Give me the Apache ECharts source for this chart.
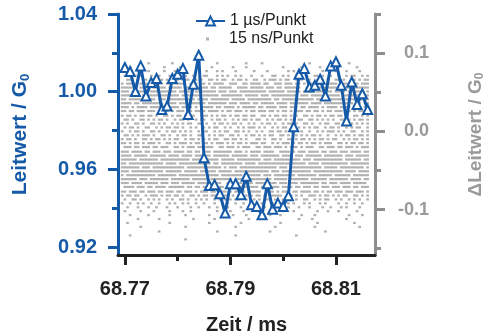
<!DOCTYPE html>
<html>
<head>
<meta charset="utf-8">
<script src="https://cdn.jsdelivr.net/npm/echarts@6/dist/echarts.min.js"></script>
<style>
  html, body { margin: 0; padding: 0; background: #fff; }
  #chart { width: 486px; height: 335px; }
</style>
</head>
<body>
<div id="chart"></div>
<script>
// 1 µs averaged trace
const timeMs = [
  68.770, 68.771, 68.772, 68.773, 68.774, 68.775, 68.776, 68.777, 68.778, 68.779,
  68.780, 68.781, 68.782, 68.783, 68.784, 68.785, 68.786, 68.787, 68.788, 68.789,
  68.790, 68.791, 68.792, 68.793, 68.794, 68.795, 68.796, 68.797, 68.798, 68.799,
  68.800, 68.801, 68.802, 68.803, 68.804, 68.805, 68.806, 68.807, 68.808, 68.809,
  68.810, 68.811, 68.812, 68.813, 68.814, 68.815, 68.816
];
const conductance = [
  1.0125, 1.0104, 1.0001, 1.0133, 0.9978, 1.0047, 1.0068, 0.9909, 0.9926, 1.0068,
  1.0090, 1.0120, 0.9883, 1.0038, 1.0188, 0.9660, 0.9517, 0.9522, 0.9475, 0.9376,
  0.9527, 0.9527, 0.9470, 0.9565, 0.9419, 0.9410, 0.9367, 0.9527, 0.9396, 0.9427,
  0.9410, 0.9465, 0.9820, 1.0090, 1.0120, 1.0024, 1.0033, 1.0064, 0.9978, 1.0133,
  1.0154, 1.0033, 0.9849, 1.0050, 0.9935, 0.9990, 0.9909
];

// 15 ns samples: digitizer levels (ΔG0) and which 0.5 µs bins hold a sample
const fastStart = 68.7695;
const fastBin = 0.0005;
const fastLevels = [
  0.087, 0.082, 0.077, 0.071, 0.066, 0.061, 0.056, 0.051, 0.046, 0.041,
  0.036, 0.031, 0.026, 0.020, 0.015, 0.010, 0.005, 0.000, -0.005, -0.010,
  -0.015, -0.020, -0.026, -0.031, -0.036, -0.041, -0.046, -0.051, -0.056, -0.061,
  -0.066, -0.071, -0.077, -0.082, -0.087, -0.092, -0.097, -0.102, -0.107, -0.112,
  -0.117, -0.122, -0.128, -0.133, -0.138
];
const fastRows = [
  ".......... #........# .........# ......#... .......#.. ...#...... .......... .#........ ......#... ....",
  "...#...... ......#... ..#....... ....#..... ..#....#.. .......... .#......#. .....#.... ..#......# ....",
  "..#...#... #.....#... #...#..... ..#...#.#. ...#...... #....#.... ...#.#.... #.....#... .#...#.... #...",
  ".#..##.#.. .#..#...## ..#.#..#.. .##...#.#. #..#.#...# ...#...##. .#.#..#... #..##.#..# ..#..#.##. .#.#",
  "..###.#.## .##..#.#.. ##.###..#. #..##.#.## ..#.##.#.. ##..#.###. #.##..#.#. ##..###.#. .##.#..##. #.##",
  "#.####.### ..####.##. ####..###. ##.#.####. .###..##.# ###.##..## #.###.##.# .####.#.## ##.###..## .###",
  "######.### #.#####.## ###.####.# ###.##.### ##..####.# ####.###.# #.######.. ###.##.### ##.####.## ####",
  "###.###### .#######.# #.#####.## ######.### .###.##### #####.#### ##.#####.# ###.###### .####.#### ##.#",
  "#######.## ####.##### ##.####### .######.## ######.### ##.###.### #######.## #.######## ###.###### #.##",
  "##.####### ###.###.## ########.# ###.###### #.#####.## #######.## .######### ###.####.# ####.##### ####",
  "####.##.## ######.### #.###.#### ##.####### .###.####. ##.#####.# ###.###### #.####.### ######.#.# #.##",
  "###.#.#### .####.##.# ##.####.#. #####.##.# ###.#.#### #.##.####. ###.###.## .####.#.## ##.####.## #.##",
  "##.##.###. ###.#.##.# .###.##.## .#.####.#. ##.###.#.# #.###.##.# .##.#.###. ##.##.#.## .###.##.#. ##.#",
  "#.##.#.##. ##.#..##.# .##.#.##.. ###.#.#.## .#.##.##.# #..##.#.## .##.#.#..# #.#.##.#.# #.##.#..## .#.#",
  ".##.#..##. #.#.##.#.. #.##.#..#. ##..#.##.# ..#.#.##.# .##..#.#.# #.#.#..##. .##.#.#.#. #..##.#.#. ##.#",
  "#.#..##.#. .##.#.#..# .#.#.##..# #.#..#.##. #.##.#..#. #..#.##.#. .#.##.#..# #.#..#.##. .##.#..#.# .#.#",
  ".#.##.#..# #..#.#.##. ##.#..#.#. .#.#.##..# .#..#.#.## #.#.#..#.# .##..#.#.# .#.##..#.# #.#..#.#.# #..#",
  "#..#.##.#. .##.#..#.# #.#.#.#..# .##..#.#.# #..##.#.#. .#.#..##.# #.#.##..#. .#..#.#.## #.#.#..##. .#.#",
  ".##.#.#.## #.#..##.#. .#.##.#..# #..#.#.##. .##.#..#.# #.#.#.##.. ##.#..#.#. #.##.#..#. .#.#.##.#. ##.#",
  "#.##.#..## .#.##.#.#. ##..#.##.# .#.#.##..# #.##.#.#.. .##.#..##. #..##.#.## .#.#.##.#. ##..#.#.## .#.#",
  "##.#.##.#. ###.#..##. #.###.#.## .##.#.###. #.#.##.#.# ##.##..#.# .###.#.##. #.##.#.### ..##.#.##. ##.#",
  ".###.##.## #.##.###.. ##.#.###.# #.###..##. ###.#.###. .##.###.## #.#.###.#. ###..##.## #.##.###.# .###",
  "###.####.# #.###.###. ####.##.## .###.##### ##.###.#.# ###.####.. ####.#.### .####.##.# ##.###.### #.##",
  "####.##### .######.## ##.####.## ####.##### #.######.# ##.####### .####.###. ######.### ####.###.# ####",
  "######.### ####.##### ######.### .######.## ###.###### ###.###.## ########.# ##.####### ####.##### #.##",
  "##.####### ######.### #.######## ####.##.## ######.### #.######## ####.##### .####.#### ######.### ####",
  "#######.## #.######## ####.##### ########.# .###.##### #########. ###.###### ######.### ##.####### ##.#",
  "###.###### ######.### ###.#####. ######.### ##.####### ######.### .######### ##.####### ####.####. ####",
  "#.######## ###.###### #.######## ##.####.## ######.### ###.###.## ######.### ####.##### .######.## ####",
  "######.### .#######.# ######.### ###.###### ##.###.### #######.## ###.###### #.######.# ######.### #.##",
  "###.####.# ####.###.# ##.#####.# ####.###.. ######.### .####.###. ###.###.## #####.##.# ##.####.## ###.",
  ".####.###. ##.####.## ####.##.## .###.####. ##.#####.# ##.##.#### .####.##.# ##.##.###. ###.###.## .###",
  "##.###.##. ###.##.### .##.###.#. ###.##.### .#.####.## ###..###.# .###.##.## ##.##.#.## .###.###.# ##.#",
  "#.##.##..# .###.#.##. ##.#..##.# .##.###..# #.#.##.#.# .##.#..### #..##.#.#. .###.#.##. #.#.##..## .#.#",
  ".#..##.#.. #.#.#..#.# ..##.#..#. #.#..#.#.# .#.##..#.. #.#..##.#. .#..#.#..# #..#.#.##. .#.#..#.#. #..#",
  "#..#..#.#. .#..#...#. #..#.#..#. .#...#..#. #..#..#..# .#.#...#.. #..#.#...# .#...#.#.. ..#..#..#. .#..",
  "..#...#... #..#...#.. .#....#..# ...#..#... #....#..#. ..#.#....# ...#...#.. .#....#..# ...#.#.... #...",
  ".#.....#.. ..#.....#. ...#..#... ......#... .#....#... ..#.....#. .#...#.... ....#...#. ..#......# ....",
  "...#...... #.......#. ....#..... ...#...... ..#....#.. ......#... #.......#. ...#...... ......#... .#..",
  "......#... ....#..... .......#.. .....#.... ........#. ...#...... .......#.. ..#....... .....#.... ....",
  "..#....... ........#. .......... ...#...... .....#.... .......... #......... ....#..... ........#. ....",
  ".......#.. .......... ....#..... .......... ...#...... ........#. .......... ...#...... .......... #...",
  ".......... ....#..... .......... ......#... .......... ......#... .......... .......#.. .......... ....",
  "...#...... .......... .......... .......... ...#...... .......... ......#... .......... .......... ....",
  ".......... .......... ....#..... .......... .......... .......... .......... .......... .......... ...."
];

const xRange = [68.7687, 68.8174];
const xMajorTicks = [68.77, 68.79, 68.81];
const xMinorTicks = [68.78, 68.80];
const leftRange = [0.916, 1.04];
const leftMajorTicks = [0.92, 0.96, 1.00, 1.04];
const leftMinorTicks = [0.94, 0.98, 1.02];
const rightRange = [-0.158, 0.15];
const rightMajorTicks = [-0.1, 0, 0.1];
const rightMinorTicks = [-0.15, -0.05, 0.05, 0.15];

const BLUE = "#155aa8";
const GREY = "#9a9a9a";
const AXIS_GREY = "#8e8e8e";
const FONT = "Liberation Sans, Arial, sans-serif";

const fastPoints = [];
fastRows.forEach((row, r) => {
  row.replace(/ /g, "").split("").forEach((c, i) => {
    if (c === "#") fastPoints.push([fastStart + i * fastBin, fastLevels[r]]);
  });
});

const chart = echarts.init(document.getElementById("chart"), null, { renderer: "canvas" });

// extra axes that only carry the short minor ticks
const minorY = (range, ticks, pos, color) => ({
  type: "value",
  position: pos,
  min: range[0],
  max: range[1],
  axisLine: { show: false, onZero: false },
  splitLine: { show: false },
  axisLabel: { show: false },
  axisTick: { show: true, customValues: ticks, length: 6, lineStyle: { color: color, width: 3 } },
});

const legendBase = {
  orient: "vertical",
  padding: 0,
  textStyle: { fontSize: 16, color: "#222", fontFamily: FONT },
};

const option = {
  animation: false,
  backgroundColor: "#fff",
  textStyle: { fontFamily: FONT },
  grid: { left: 118, right: 111, top: 14, bottom: 80, outerBoundsMode: "none" },
  legend: [
    {
      ...legendBase,
      left: 195,
      top: 13,
      itemWidth: 29,
      itemHeight: 11,
      data: ["1 µs/Punkt"],
    },
    {
      ...legendBase,
      left: 206,
      top: 31,
      itemWidth: 3,
      itemHeight: 3,
      textStyle: { ...legendBase.textStyle, padding: [0, 0, 0, 15] },
      data: [{ name: "15 ns/Punkt", icon: "rect" }],
    },
  ],
  xAxis: [
    {
      type: "value",
      min: xRange[0],
      max: xRange[1],
      name: "Zeit / ms",
      nameLocation: "middle",
      nameGap: 60,
      nameTextStyle: { fontSize: 20, fontWeight: "bold", color: "#222" },
      axisLine: { show: true, onZero: false, lineStyle: { color: "#222", width: 3 } },
      splitLine: { show: false },
      axisTick: { customValues: xMajorTicks, length: 10, lineStyle: { color: "#222", width: 3 } },
      axisLabel: {
        customValues: xMajorTicks,
        margin: 24,
        fontSize: 20,
        fontWeight: "bold",
        color: "#222",
        formatter: (v) => v.toFixed(2),
      },
    },
    {
      type: "value",
      position: "bottom",
      min: xRange[0],
      max: xRange[1],
      axisLine: { show: false, onZero: false },
      splitLine: { show: false },
      axisLabel: { show: false },
      axisTick: { customValues: xMinorTicks, length: 6, lineStyle: { color: "#222", width: 3 } },
    },
  ],
  yAxis: [
    {
      type: "value",
      position: "left",
      min: leftRange[0],
      max: leftRange[1],
      name: "Leitwert / G{sub|0}",
      nameLocation: "middle",
      nameRotate: 90,
      nameGap: 86,
      nameTextStyle: {
        fontSize: 21,
        fontWeight: "bold",
        color: BLUE,
        rich: { sub: { fontSize: 13, fontWeight: "bold", color: BLUE, padding: [10, 0, 0, 0] } },
      },
      axisLine: { show: true, onZero: false, lineStyle: { color: BLUE, width: 3 } },
      splitLine: { show: false },
      axisTick: { customValues: leftMajorTicks, length: 10, lineStyle: { color: BLUE, width: 3 } },
      axisLabel: {
        customValues: leftMajorTicks,
        margin: 21,
        fontSize: 20,
        fontWeight: "bold",
        color: BLUE,
        formatter: (v) => v.toFixed(2),
      },
    },
    {
      type: "value",
      position: "right",
      min: rightRange[0],
      max: rightRange[1],
      name: "ΔLeitwert / G{sub|0}",
      nameLocation: "middle",
      nameRotate: 90,
      nameGap: 90,
      nameTextStyle: {
        fontSize: 19,
        fontWeight: "bold",
        color: GREY,
        rich: { sub: { fontSize: 12, fontWeight: "bold", color: GREY, padding: [9, 0, 0, 0] } },
      },
      axisLine: { show: true, onZero: false, lineStyle: { color: AXIS_GREY, width: 3 } },
      splitLine: { show: false },
      axisTick: { customValues: rightMajorTicks, length: 10, lineStyle: { color: AXIS_GREY, width: 3 } },
      axisLabel: {
        customValues: rightMajorTicks,
        margin: 54,
        align: "right",
        fontSize: 18,
        fontWeight: "bold",
        color: GREY,
        formatter: (v) => v.toFixed(1),
      },
    },
    minorY(leftRange, leftMinorTicks, "left", BLUE),
    minorY(rightRange, rightMinorTicks, "right", AXIS_GREY),
  ],
  series: [
    {
      name: "15 ns/Punkt",
      type: "scatter",
      yAxisIndex: 1,
      large: false,
      symbol: "rect",
      symbolSize: [2.7, 2.2],
      itemStyle: { color: "#9c9c9c" },
      data: fastPoints,
      z: 2,
    },
    {
      name: "1 µs/Punkt",
      type: "line",
      yAxisIndex: 0,
      data: timeMs.map((t, i) => [t, conductance[i]]),
      symbol: "emptyTriangle",
      symbolSize: 9,
      showAllSymbol: true,
      lineStyle: { color: BLUE, width: 3 },
      itemStyle: { color: BLUE, borderWidth: 2.5 },
      z: 5,
    },
  ],
};

chart.setOption(option);
</script>
</body>
</html>
